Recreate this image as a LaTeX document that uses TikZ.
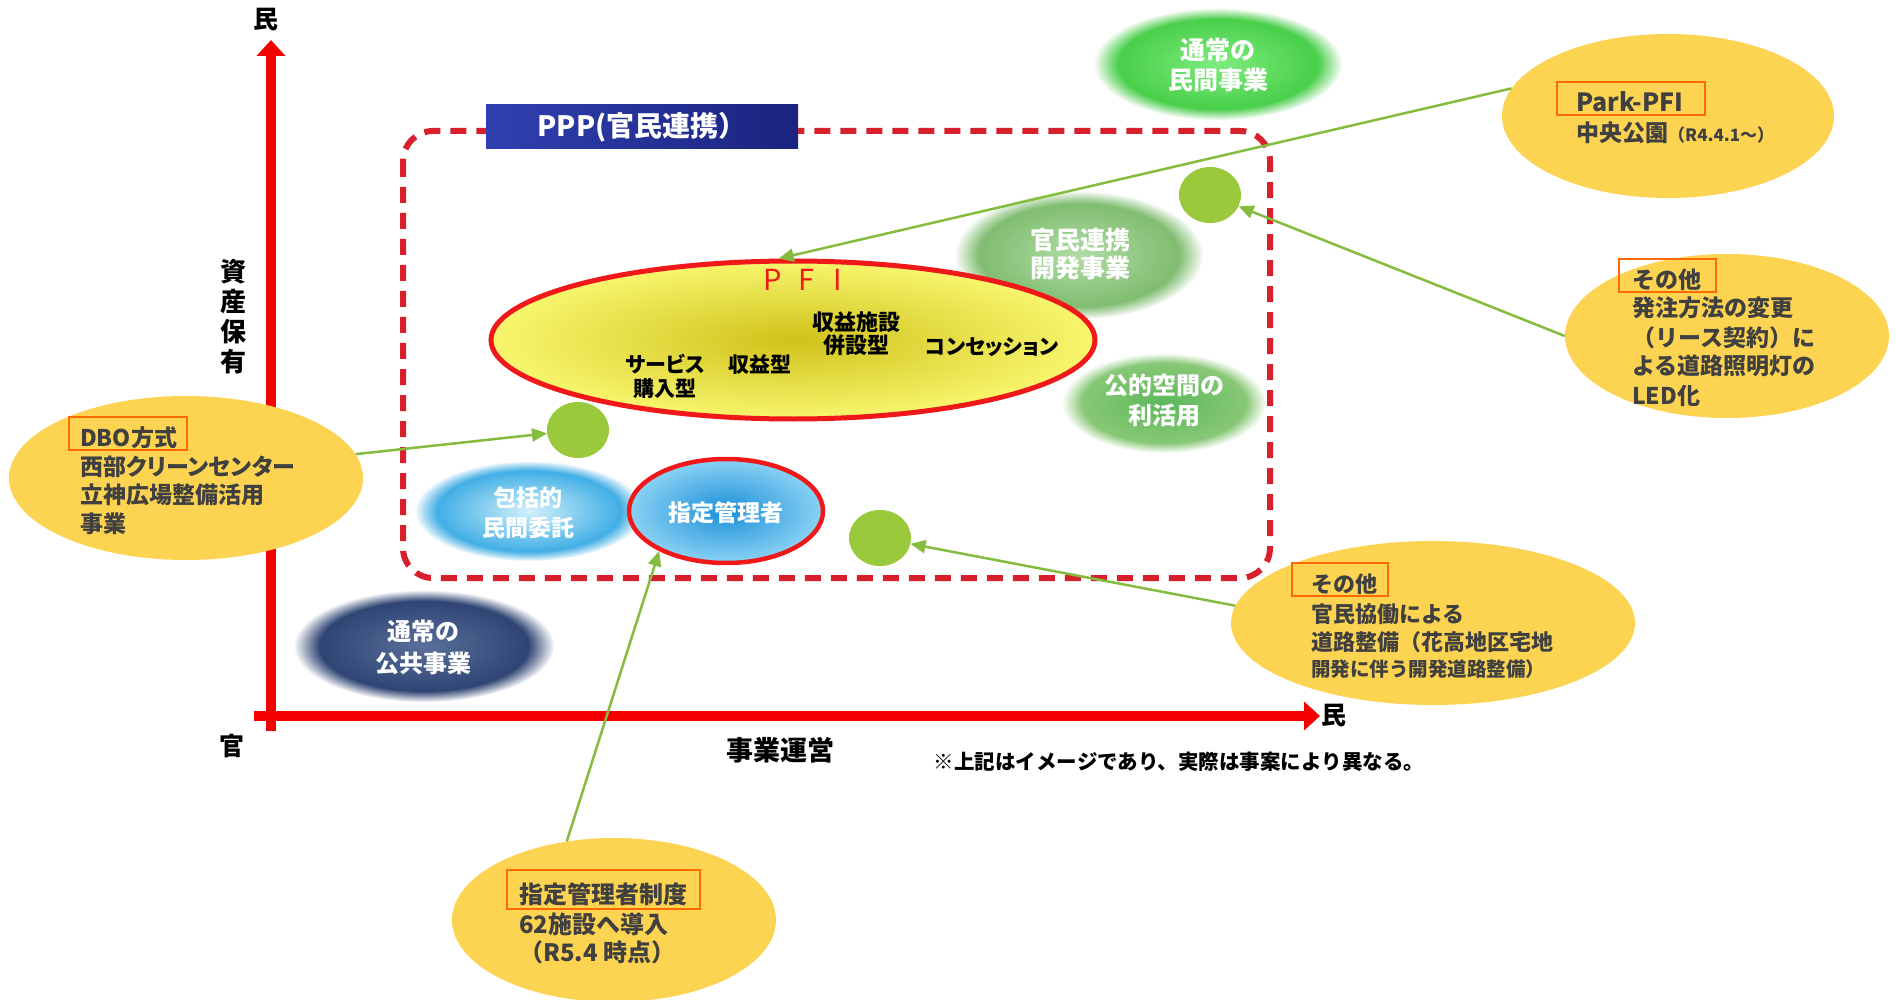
\documentclass[tikz,border=0pt]{standalone}
\usepackage{fontspec}
\setmainfont{Noto Sans CJK JP}
\newfontfamily\jpp{Noto Sans CJK JP}[RawFeature=+palt]
\usetikzlibrary{shapes.geometric,arrows.meta,fadings}
\definecolor{axred}{HTML}{F50000}
\definecolor{dashred}{HTML}{D7202B}
\definecolor{pfired}{HTML}{F01818}
\definecolor{pfiin}{HTML}{D0C21A}
\definecolor{pfiout}{HTML}{F8F66E}
\definecolor{navyA}{HTML}{3040B0}
\definecolor{navyB}{HTML}{1A237E}
\definecolor{callfill}{HTML}{FDD352}
\definecolor{boxorange}{HTML}{FF6A00}
\definecolor{calltext}{HTML}{404040}
\definecolor{dotgreen}{HTML}{9BC93C}
\definecolor{arrgreen}{HTML}{86BC3E}
\definecolor{minIn}{HTML}{7EEC7E}
\definecolor{minOut}{HTML}{3CC83C}
\definecolor{kanIn}{HTML}{B0DCA4}
\definecolor{kanOut}{HTML}{74B664}
\definecolor{kouIn}{HTML}{5DB85A}
\definecolor{kouOut}{HTML}{92CC7E}
\definecolor{houIn}{HTML}{D2F0FB}
\definecolor{houOut}{HTML}{1E9FE0}
\definecolor{shiIn}{HTML}{1C8FD9}
\definecolor{shiOut}{HTML}{8AD2F4}
\definecolor{kokIn}{HTML}{5A6F9A}
\definecolor{kokOut}{HTML}{243A6A}
\newcommand\fsz[2]{\fontsize{#1}{#2}\selectfont}
\tikzset{
  callout/.style={ellipse, fill=callfill, inner sep=0pt},
  obox/.style={draw=boxorange, line width=2.5pt, inner sep=0pt},
  ctext/.style={anchor=base west, inner sep=0pt, text=calltext, font=\bfseries\fsz{23}{23}},
  wtext/.style={align=center, text=white, font=\bfseries\fsz{24}{30}, inner sep=0pt},
  btext/.style={align=center, text=black, font=\bfseries\fsz{21}{24}, inner sep=0pt},
  axlab/.style={text=black, font=\bfseries\fsz{25}{25}, inner sep=0pt},
  gdot/.style={ellipse, fill=dotgreen, inner sep=0pt, minimum width=62pt, minimum height=56pt},
  garrow/.style={draw=arrgreen, line width=2.5pt, -{Triangle[width=13pt,length=15pt]}},
  soft/.style={path fading=circle with fuzzy edge 20 percent},
  axis/.style={draw=axred, line width=10pt, -{Triangle[width=28pt,length=16pt]}}
}
\begin{document}
\begin{tikzpicture}[x=1pt,y=-1pt]
\useasboundingbox (0,0) rectangle (1896,1000);
\fill[white] (0,0) rectangle (1896,1000);

% axes
\coordinate (yb) at (271,731);
\coordinate (yt) at (271,40);
\coordinate (xl) at (254,716);
\coordinate (xr) at (1320,716);
\draw[axis] (yb) -- (yt);
\draw[axis] (xl) -- (xr);
\node[axlab] (lmintop) at (266,20) {民};
\node[axlab] (lminright) at (1334,716) {民};
\node[axlab] (lkan) at (232,746) {官};
\node[axlab, font=\bfseries\fsz{27}{27}] (ljigyo) at (780,750) {事業運営};
\node[align=center, font=\bfseries\fsz{26}{30}, inner sep=0pt] (lshisan) at (233,317) {資\\産\\保\\有};
\node[inner sep=0pt, font=\bfseries\fsz{20.5}{20.5}] (note) at (1179,762) {※上記はイメージであり、実際は事案により異なる。};

% PPP dashed region
\draw[dashred, line width=6pt, dash pattern=on 16pt off 10pt, rounded corners=30pt] (403,131) rectangle (1270,578);
\node[left color=navyA, right color=navyB, minimum width=312pt, minimum height=44pt, inner sep=0pt, text=white, font=\bfseries\fsz{28}{28}] (ppp) at (642,127) {PPP(官民連携）};

% soft shapes
\shade[inner color=minIn, outer color=minOut, soft] (1218,64) ellipse [x radius=124, y radius=56];
\node[wtext, font=\bfseries\fsz{25}{30}] (tmin) at (1218,65) {通常の\\民間事業};
\shade[inner color=kanIn, outer color=kanOut, soft] (1079,255) ellipse [x radius=124, y radius=64];
\node[wtext, font=\bfseries\fsz{25}{28}] (tkan) at (1080,254) {官民連携\\開発事業};
\shade[inner color=kouIn, outer color=kouOut, soft] (1164,403) ellipse [x radius=102, y radius=50];
\node[wtext] (tkou) at (1164,400) {公的空間の\\利活用};
\shade[inner color=houIn, outer color=houOut, soft] (529,511) ellipse [x radius=114, y radius=50];
\node[wtext, font=\bfseries\fsz{23}{30}] (thou) at (528,513) {包括的\\民間委託};
\shade[inner color=kokIn, outer color=kokOut, soft] (424,646) ellipse [x radius=130, y radius=56];
\node[wtext, font=\bfseries\fsz{24}{32}] (tkok) at (423,647) {通常の\\公共事業};

% PFI
\node[ellipse, draw=pfired, line width=5pt, inner color=pfiin, outer color=pfiout, minimum width=604pt, minimum height=158pt, inner sep=0pt] (pfi) at (793,340) {};
\node[text=pfired, inner sep=0pt, font=\fsz{29}{29}] (tpfi) at (803,280) {P\hspace{17pt}F\hspace{19pt}I};
\node[btext, font=\bfseries\jpp\fsz{21}{24}] (tsvc) at (665,376) {サービス\\購入型};
\node[btext] (tshu) at (760,365) {収益型};
\node[btext, font=\bfseries\fsz{22}{23}] (tshi) at (856,334) {収益施設\\併設型};
\node[btext, font=\bfseries\jpp\fsz{21}{24}] (tcon) at (992,347) {コンセッション};

% 指定管理者
\node[ellipse, draw=pfired, line width=4.5pt, inner color=shiIn, outer color=shiOut, minimum width=194pt, minimum height=104pt, inner sep=0pt] (shitei) at (726,511) {};
\node[wtext, font=\bfseries\fsz{23}{23}] (tshitei) at (726,513) {指定管理者};

% green dots
\node[gdot] (dot1) at (1210,195) {};
\node[gdot] (dot2) at (578,430) {};
\node[gdot] (dot3) at (880,538) {};

% callouts
\node[callout, minimum width=332pt, minimum height=164pt] (cpark) at (1668,116) {};
\node[obox, minimum width=148pt, minimum height=33pt] (bpark) at (1631,98.5) {};
\node[ctext, font=\bfseries\fsz{25}{25}] (tpark1) at (1576,112) {Park-PFI};
\node[ctext] (tpark2) at (1576,142) {中央公園{\fsz{17}{17}（R4.4.1～）}};

\node[callout, minimum width=324pt, minimum height=164pt] (cled) at (1727,336) {};
\node[obox, minimum width=97pt, minimum height=33pt] (bled) at (1667.5,275.5) {};
\node[ctext] (tled1) at (1632,289) {その他};
\node[ctext] (tled2) at (1632,317) {発注方法の変更};
\node[ctext] (tled3) at (1632,346) {（リース契約）に};
\node[ctext] (tled4) at (1632,374) {よる道路照明灯の};
\node[ctext] (tled5) at (1632,404) {LED化};

\node[callout, minimum width=354pt, minimum height=164pt] (cdbo) at (186,478) {};
\node[obox, minimum width=118pt, minimum height=33pt] (bdbo) at (128,433.5) {};
\node[ctext] (tdbo1) at (80,446) {DBO方式};
\node[ctext, font=\bfseries\jpp\fsz{23}{23}] (tdbo2) at (80,475) {西部クリーンセンター};
\node[ctext] (tdbo3) at (80,503) {立神広場整備活用};
\node[ctext] (tdbo4) at (80,532) {事業};

\node[callout, minimum width=404pt, minimum height=164pt] (cother) at (1433,623) {};
\node[obox, minimum width=96pt, minimum height=33pt] (bother) at (1340,579.5) {};
\node[ctext, font=\bfseries\fsz{22}{22}] (toth1) at (1311,592) {その他};
\node[ctext, font=\bfseries\fsz{22}{22}] (toth2) at (1311,622) {官民協働による};
\node[ctext, font=\bfseries\fsz{22}{22}] (toth3) at (1311,650) {道路整備（花高地区宅地};
\node[ctext, font=\bfseries\fsz{19.5}{19.5}] (toth4) at (1311,676) {開発に伴う開発道路整備）};

\node[callout, minimum width=324pt, minimum height=164pt] (cshitei) at (614,920) {};
\node[obox, minimum width=193pt, minimum height=39pt] (bshitei) at (603.5,889.5) {};
\node[ctext, font=\bfseries\fsz{24}{24}] (tsh1) at (519,903) {指定管理者制度};
\node[ctext, font=\bfseries\fsz{24}{24}] (tsh2) at (519,933) {62施設へ導入};
\node[ctext, font=\bfseries\fsz{24}{24}] (tsh3) at (519,961) {（R5.4 時点）};

% connectors
\draw[garrow] (cpark.170) -- (pfi.100);
\draw[garrow] (cled.west) -- (dot1);
\draw[garrow] (cdbo.8) -- (dot2);
\draw[garrow] (cother.175) -- (dot3);
\draw[garrow] (cshitei.121) -- (shitei.211);
\end{tikzpicture}
\end{document}
